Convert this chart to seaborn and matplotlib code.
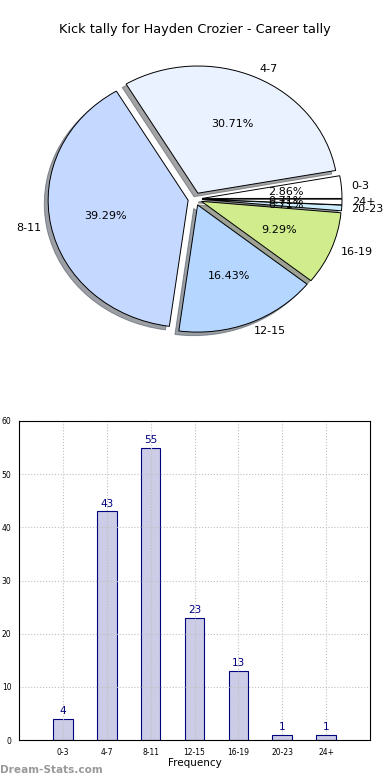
import matplotlib
matplotlib.use("Agg")
import matplotlib.pyplot as plt
import pandas as pd
import seaborn as sns

# kick tally per range
ranges = ['0-3', '4-7', '8-11', '12-15', '16-19', '20-23', '24+']
counts = [4, 43, 55, 23, 13, 1, 1]
pie_colors = ['#ffffff', '#eaf1ff', '#c5d8ff', '#b4d6ff', '#d0ec8c', '#cdeffd', '#ffffff']

df = pd.DataFrame({'range': ranges, 'count': counts})

sns.set_style('white')
plt.rcParams['font.family'] = ['DejaVu Sans']
plt.rcParams['text.color'] = 'black'
plt.rcParams['xtick.color'] = 'black'
plt.rcParams['ytick.color'] = 'black'
plt.rcParams['axes.labelcolor'] = 'black'

fig = plt.figure(figsize=(3.9, 7.8), dpi=100)

fig.text(0.5, 1 - 30 / 780, 'Kick tally for Hayden Crozier - Career tally',
         ha='center', va='center', fontsize=9.3)

# pie (stretched, like the original)
ax1 = fig.add_axes([20 / 390, 1 - 358 / 780, 350 / 390, 318 / 780])
wedges, texts, autotexts = ax1.pie(
    counts, labels=ranges, colors=pie_colors, explode=[0.05] * len(counts),
    autopct='%.2f%%', pctdistance=0.6, labeldistance=1.07, startangle=0,
    shadow=True, wedgeprops=dict(edgecolor='black', linewidth=0.7),
    textprops=dict(fontsize=8, color='black'))
ax1.set_aspect('auto')
ax1.set_xlim(-1.25, 1.25)
ax1.set_ylim(-1.25, 1.25)

# bars
ax2 = fig.add_axes([19 / 390, 40 / 780, 351 / 390, 319 / 780])
sns.barplot(data=df, x='range', y='count', ax=ax2, color='#cccce6',
            edgecolor='#000080', linewidth=0.8, width=0.45, saturation=1)
for c in ax2.containers:
    ax2.bar_label(c, padding=2, color='#000080', fontsize=7.5)
ax2.set_xlim(-1, 7)
ax2.set_ylim(0, 60)
ax2.set_yticks(range(0, 61, 10))
ax2.grid(True, linestyle=':', color='#c0c0c0', linewidth=0.8)
ax2.set_axisbelow(False)
for s in ax2.spines.values():
    s.set_color('black')
    s.set_linewidth(0.8)
    s.set_zorder(5)
ax2.tick_params(labelsize=5.5, length=2)
ax2.set_xlabel('Frequency', fontsize=7.5, labelpad=1)
ax2.set_ylabel('')

fig.text(0.0, 1 - 770 / 780, 'Dream-Stats.com', color='#999999',
         fontsize=7.6, fontweight='bold', va='center', ha='left')

fig.savefig('out.png', dpi=100)
